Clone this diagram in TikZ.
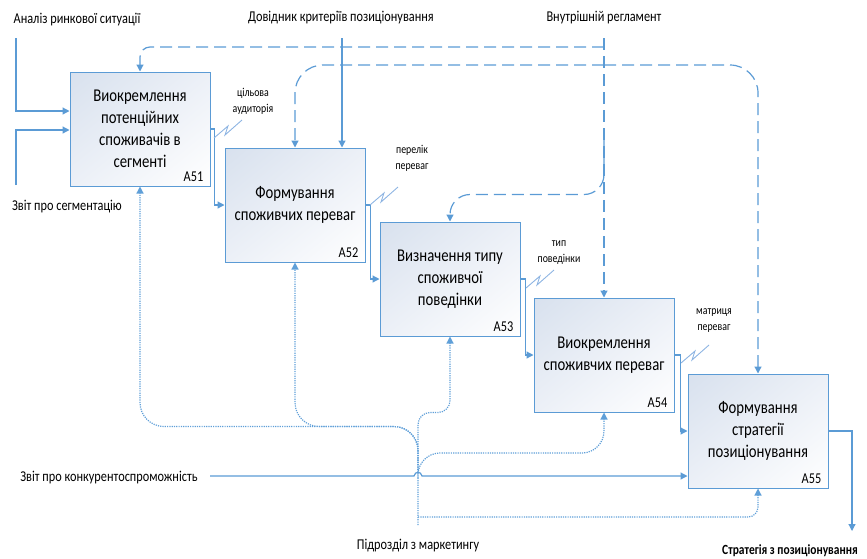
\documentclass[tikz,border=0pt]{standalone}
\usepackage{fontspec}
\setmainfont{Carlito}[FakeStretch=0.82]
\usetikzlibrary{arrows.meta,shadings}
\definecolor{ln}{HTML}{5B9BD5}
\definecolor{lnlt}{HTML}{8DB4E2}
\definecolor{mln}{HTML}{5F9FD8}
\definecolor{boxtop}{HTML}{D8E1EE}
\definecolor{boxmid}{HTML}{ECF0F7}
\begin{document}
\begin{tikzpicture}[x=1pt,y=-1pt,
 tip/.style={-{Triangle[length=7pt,width=7pt]}},
 flow/.style={draw=ln,line width=1.2pt,tip},
 ctrl/.style={draw=ln,line width=1.2pt,dash pattern=on 12pt off 6pt,tip},
 mechl/.style={draw=mln,line width=1.2pt,dash pattern=on 1.2pt off 1.1pt,tip},
 box/.style={draw=ln,line width=1pt,minimum width=140pt,minimum height=114pt,inner sep=2pt,align=center,font=\fontsize{18}{22}\selectfont,upper left=boxtop,upper right=boxmid,lower left=boxmid,lower right=white},
 num/.style={font=\fontsize{15}{15}\selectfont,anchor=south east,inner sep=0pt},
 lbl/.style={font=\fontsize{15}{18}\selectfont,inner sep=0pt},
 small/.style={font=\fontsize{12}{16}\selectfont,align=center,inner sep=0pt},
 sq/.style={draw=lnlt,line width=0.9pt}
]
\useasboundingbox (0,0) rectangle (867,558);

% boxes
\node[box] (A51) at (140,129) {Виокремлення\\потенційних\\споживачів в\\сегменті};
\node[box] (A52) at (295,205) {Формування\\споживчих переваг};
\node[box] (A53) at (450,279) {Визначення типу\\споживчої\\поведінки};
\node[box] (A54) at (604,355) {Виокремлення\\споживчих переваг};
\node[box] (A55) at (758,431) {Формування\\стратегії\\позиціонування};
\node[num] (n1) at ([xshift=-7pt,yshift=5pt]A51.south east) {A51};
\node[num] (n2) at ([xshift=-7pt,yshift=5pt]A52.south east) {A52};
\node[num] (n3) at ([xshift=-7pt,yshift=5pt]A53.south east) {A53};
\node[num] (n4) at ([xshift=-7pt,yshift=5pt]A54.south east) {A54};
\node[num] (n5) at ([xshift=-7pt,yshift=5pt]A55.south east) {A55};

% outer labels
\node[lbl] (t1) at (77,20) {Аналіз ринкової ситуації};
\node[lbl] (t2) at (67,207) {Звіт про сегментацію};
\node[lbl] (t3) at (341,18) {Довідник критеріїв позиціонування};
\node[lbl] (t4) at (604,18) {Внутрішній регламент};
\node[lbl] (t5) at (109,478) {Звіт про конкурентоспроможність};
\node[lbl] (t6) at (418,546) {Підрозділ з маркетингу};
\node[inner sep=0pt,font=\bfseries\fontsize{14}{14}\selectfont] (t7) at (790,551) {Стратегія з позиціонування};

% small labels
\node[small] (l1) at (253,101) {цільова\\аудиторія};
\node[small] (l2) at (412,158) {перелік\\переваг};
\node[small] (l3) at (559,253) {тип\\поведінки};
\node[small] (l4) at (714,321) {матриця\\переваг};

% coordinates
\coordinate (i1) at (16,38);
\coordinate (i2) at (16,185);
\coordinate (i3) at (210,476);
\coordinate (c1) at (342,38);
\coordinate (c2) at (604,38);
\coordinate (j1) at (604,47);
\coordinate (j2) at (604,65);
\coordinate (j3) at (604,140);
\coordinate (mk) at (418,525);
\coordinate (m1) at (418,517);
\coordinate (m2) at (418,478);
\coordinate (m3) at (418,470);
\coordinate (o1) at (852,531);
\coordinate (s1) at (214,138);
\coordinate (s2) at (370,205);
\coordinate (s3) at (526,288);
\coordinate (s4) at (681,363);

% inputs
\draw[flow] (i1) |- ([yshift=18pt]A51.west);
\draw[flow] (i2) |- ([yshift=-1pt]A51.west);
\draw[flow] (i3) -- (414,476) .. controls (415,471) and (421,471) .. (422,476) -- ([yshift=-45pt]A55.west);

% controls
\draw[flow] (c1) -- ([xshift=47pt]A52.north);
\draw[ctrl] (c2) -- (A54.north);
\draw[ctrl,rounded corners=10pt] (j1) -| (A51.north);
\draw[ctrl,rounded corners=28pt] (j2) -| (A52.north);
\draw[ctrl,rounded corners=28pt] (j2) -| (A55.north);
\draw[ctrl,rounded corners=20pt] (j3) |- ([yshift=27pt]A53.north) -- (A53.north);

% flows
\draw[flow] (A51.east) -- ++(4,0) |- (A52.west);
\draw[flow] (A52.east) -- ++(5,0) |- (A53.west);
\draw[flow] (A53.east) -- ++(5,0) |- (A54.west);
\draw[flow] (A54.east) -- ++(6,0) |- (A55.west);
\draw[flow] (A55.east) -| (o1);

% mechanisms
\draw[mechl,rounded corners=12pt] (mk) |- ([yshift=-76pt]A53.south) -- (A53.south);
\draw[mechl,rounded corners=10pt] (m1) -| (A55.south);
\draw[mechl,rounded corners=22pt] (m2) -- ++(0,-25) -| (A54.south);
\draw[mechl,rounded corners=24pt] (m3) |- ([yshift=-240pt]A51.south) -- (A51.south);
\draw[mechl,rounded corners=24pt] (m3) |- ([yshift=-164pt]A52.south) -- (A52.south);

% squiggles
\draw[sq] (s1) -- ++(14,-12) -- ++(-3,9) -- ++(17,-15);
\draw[sq] (s2) -- ++(14,-12) -- ++(-3,9) -- ++(17,-15);
\draw[sq] (s3) -- ++(14,-12) -- ++(-3,9) -- ++(17,-15);
\draw[sq] (s4) -- ++(14,-12) -- ++(-3,9) -- ++(17,-15);
\end{tikzpicture}
\end{document}
